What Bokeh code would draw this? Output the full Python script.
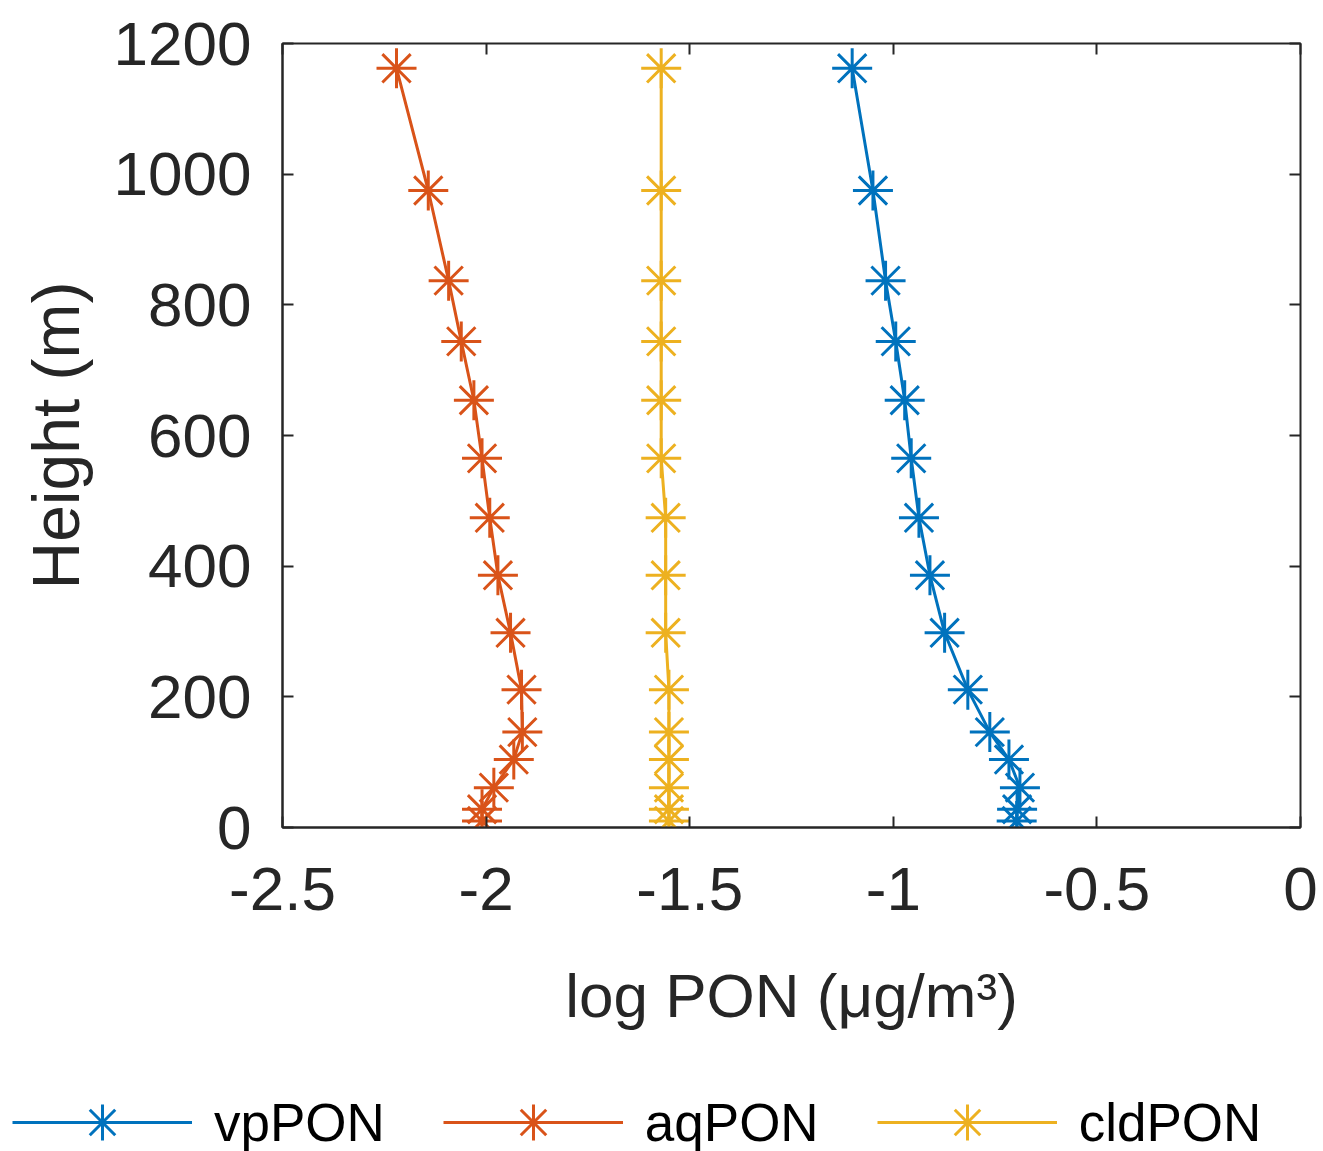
from bokeh.plotting import figure
from bokeh.layouts import column
from bokeh.models import Range1d, LinearAxis, FixedTicker, Legend, LegendItem
from bokeh.embed import file_html
from bokeh.resources import INLINE

height = [1162, 975, 837, 744, 654, 565, 474, 386, 298, 211, 146, 104, 61, 28, 10]
vpPON = [-1.101, -1.050, -1.019, -0.994, -0.972, -0.956, -0.937, -0.910, -0.874,
         -0.817, -0.763, -0.716, -0.689, -0.696, -0.697]
aqPON = [-2.220, -2.142, -2.092, -2.061, -2.030, -2.010, -1.991, -1.971, -1.940,
         -1.913, -1.911, -1.932, -1.981, -2.010, -2.010]
cldPON = [-1.570, -1.570, -1.570, -1.570, -1.570, -1.570, -1.559, -1.559, -1.559,
          -1.551, -1.551, -1.551, -1.551, -1.551, -1.551]
series_names = ["vpPON", "aqPON", "cldPON"]
series_colors = ["#0072BD", "#D95319", "#EDB120"]
x_ticks = [-2.5, -2, -1.5, -1, -0.5, 0]
y_ticks = [0, 200, 400, 600, 800, 1000, 1200]

FONT = "Liberation Sans"
TXT = "#262626"

p = figure(width=1323, height=1070, output_backend="svg", toolbar_location=None,
           x_range=Range1d(-2.5, 0), y_range=Range1d(0, 1200),
           min_border_left=282, min_border_right=23, min_border_top=43,
           min_border_bottom=243)
p.frame_align = False
p.grid.visible = False
p.outline_line_color = TXT
p.outline_line_width = 2
p.background_fill_color = "white"
p.border_fill_color = "white"

for ax in (p.xaxis[0], p.yaxis[0]):
    ax.major_tick_in = 11
    ax.major_tick_out = 0
    ax.minor_tick_in = 0
    ax.minor_tick_out = 0
    ax.axis_line_color = TXT
    ax.axis_line_width = 2
    ax.major_tick_line_color = TXT
    ax.major_tick_line_width = 2
    ax.major_label_text_font = FONT
    ax.major_label_text_font_size = "62px"
    ax.major_label_text_color = TXT
    ax.axis_label_text_font = FONT
    ax.axis_label_text_font_style = "normal"
    ax.axis_label_text_color = TXT

p.xaxis[0].ticker = FixedTicker(ticks=x_ticks)
p.yaxis[0].ticker = FixedTicker(ticks=y_ticks)
p.xaxis[0].major_label_overrides = {-2.5: "-2.5", -2: "-2", -1.5: "-1.5", -1: "-1", -0.5: "-0.5", 0: "0"}
p.xaxis[0].major_label_standoff = 40
p.yaxis[0].major_label_standoff = 31
p.xaxis[0].axis_label = "log PON (μg/m³)"
p.yaxis[0].axis_label = "Height (m)"
p.xaxis[0].axis_label_text_font_size = "62px"
p.yaxis[0].axis_label_text_font_size = "66px"
p.xaxis[0].axis_label_standoff = 48
p.yaxis[0].axis_label_standoff = 18

for side, tk in (("above", x_ticks), ("right", y_ticks)):
    a = LinearAxis(ticker=FixedTicker(ticks=tk))
    a.major_label_overrides = {t: "" for t in tk}
    a.major_label_text_font_size = "10px"
    a.major_label_standoff = 0
    a.major_tick_in = 11
    a.major_tick_out = 0
    a.minor_tick_in = 0
    a.minor_tick_out = 0
    a.axis_line_color = None
    a.major_tick_line_color = TXT
    a.major_tick_line_width = 2
    p.add_layout(a, side)

# legend figure (data lies outside its ranges; only the legend is visible)
lf = figure(width=1323, height=81, output_backend="svg", toolbar_location=None,
            x_range=Range1d(10, 11), y_range=Range1d(0, 1200),
            x_axis_type=None, y_axis_type=None,
            min_border_left=0, min_border_right=0, min_border_top=0, min_border_bottom=0)
lf.frame_align = False
lf.grid.visible = False
lf.outline_line_color = None

items = []
for name, col, vals in zip(series_names, series_colors, [vpPON, aqPON, cldPON]):
    p.line(vals, height, line_color=col, line_width=3)
    p.scatter(vals, height, marker="asterisk", size=40, line_color=col, line_width=3)
    lr = lf.line(vals, height, line_color=col, line_width=3)
    sr = lf.scatter(vals, height, marker="asterisk", size=40, line_color=col, line_width=3)
    items.append(LegendItem(label=name, renderers=[lr, sr]))

legend = Legend(items=items, orientation="horizontal", location=(12, -16),
                glyph_width=180, glyph_height=90, label_standoff=22, spacing=58,
                padding=0, margin=0, border_line_color=None, background_fill_alpha=0,
                label_text_font=FONT, label_text_font_size="53px", label_text_color="black",
                label_height=56)
lf.add_layout(legend, "center")

layout = column(p, lf, spacing=0)
open("out.html", "w").write(file_html(layout, INLINE))
